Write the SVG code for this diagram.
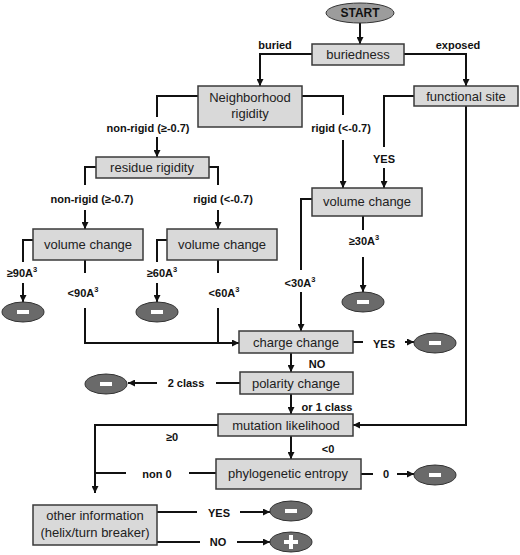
<svg xmlns="http://www.w3.org/2000/svg" width="520" height="555" viewBox="0 0 520 555">
<defs>
<marker id="ah" viewBox="0 0 10 10" refX="10" refY="5" markerWidth="9" markerHeight="7" markerUnits="userSpaceOnUse" orient="auto">
<path d="M0,0 L10,5 L0,10 z" fill="#111"/>
</marker>
</defs>
<style>
.box{fill:#d9d9d9;stroke:#3a3a3a;stroke-width:1.5}
.nt{font-family:"Liberation Sans",Arial,sans-serif;font-size:13px;fill:#222;text-anchor:middle}
.lb{font-family:"Liberation Sans",Arial,sans-serif;font-size:11px;font-weight:bold;fill:#111;text-anchor:middle}
.sup{font-size:7.5px}
.ln{fill:none;stroke:#111;stroke-width:2}
.ar{fill:none;stroke:#111;stroke-width:2;marker-end:url(#ah)}
.term{fill:#6a6a6a;stroke:#333;stroke-width:1}
.sym{fill:#fff}
</style>
<rect width="520" height="555" fill="#fff"/>

<g id="connectors">
<line class="ar" x1="360" y1="23" x2="360" y2="44"/>
<path class="ar" d="M312,54 H260 V86"/>
<path class="ar" d="M404,54 H466 V86"/>
<path class="ln" d="M198,96 H157 V117"/>
<path class="ar" d="M157,137 V157"/>
<path class="ln" d="M302,96 H343 V115"/>
<path class="ar" d="M343,140 V188"/>
<path class="ln" d="M414,96 H384 V147"/>
<path class="ar" d="M384,168 V188"/>
<path class="ar" d="M466,106 V425 H353"/>
<path class="ln" d="M96,167 H85 V185"/>
<path class="ar" d="M85,210 V229"/>
<path class="ln" d="M209,167 H218 V185"/>
<path class="ar" d="M218,210 V229"/>
<path class="ln" d="M33,240 H23 V262"/>
<path class="ar" d="M23,283 V302"/>
<path class="ln" d="M85,260 V273"/>
<path class="ar" d="M85,308 V343 H239"/>
<path class="ln" d="M167,240 H157 V262"/>
<path class="ar" d="M157,283 V302"/>
<path class="ln" d="M218,260 V273"/>
<path class="ln" d="M218,308 V343"/>
<path class="ln" d="M363,216 V230"/>
<path class="ar" d="M363,257 V292"/>
<path class="ln" d="M312,199 H301 V270"/>
<path class="ar" d="M301,292 V331"/>
<path class="ln" d="M353,342 H363"/>
<path class="ar" d="M405,342 H414"/>
<path class="ar" d="M291,353 V372"/>
<path class="ln" d="M240,383 H216"/>
<path class="ar" d="M157,383 H128"/>
<path class="ar" d="M291,394 V414"/>
<path class="ar" d="M218,425 H95 V493"/>
<path class="ar" d="M291,436 V459"/>
<path class="ln" d="M216,473 H189"/>
<path class="ln" d="M126,473 H95"/>
<path class="ln" d="M361,474 H373"/>
<path class="ar" d="M397,474 H414"/>
<path class="ln" d="M157,512 H197"/>
<path class="ar" d="M240,512 H270"/>
<path class="ln" d="M157,542 H200"/>
<path class="ar" d="M237,542 H270"/>

<text class="lb" x="275" y="49">buried</text>
<text class="lb" x="458" y="49">exposed</text>
<text class="lb" x="148" y="132">non-rigid (≥-0.7)</text>
<text class="lb" x="341" y="132">rigid (&lt;-0.7)</text>
<text class="lb" x="384" y="163">YES</text>
<text class="lb" x="92" y="203">non-rigid (≥-0.7)</text>
<text class="lb" x="223" y="203">rigid (&lt;-0.7)</text>
<text class="lb" x="22" y="277">≥90A<tspan class="sup" dy="-5">3</tspan></text>
<text class="lb" x="83" y="297">&lt;90A<tspan class="sup" dy="-5">3</tspan></text>
<text class="lb" x="162" y="277">≥60A<tspan class="sup" dy="-5">3</tspan></text>
<text class="lb" x="224" y="297">&lt;60A<tspan class="sup" dy="-5">3</tspan></text>
<text class="lb" x="364" y="245">≥30A<tspan class="sup" dy="-5">3</tspan></text>
<text class="lb" x="300" y="287">&lt;30A<tspan class="sup" dy="-5">3</tspan></text>
<text class="lb" x="384" y="348">YES</text>
<text class="lb" x="317" y="368">NO</text>
<text class="lb" x="186" y="387">2 class</text>
<text class="lb" x="327" y="411">or 1 class</text>
<text class="lb" x="172" y="441">≥0</text>
<text class="lb" x="328" y="453">&lt;0</text>
<text class="lb" x="157" y="478">non 0</text>
<text class="lb" x="386" y="478">0</text>
<text class="lb" x="219" y="517">YES</text>
<text class="lb" x="218" y="546">NO</text>
</g>

<g id="start">
<ellipse cx="360" cy="13" rx="34" ry="10" fill="#9c9c9c" stroke="#333" stroke-width="1"/>
<text class="lb" x="360" y="17" style="font-size:12px">START</text>
</g>
<g id="buriedness">
<rect class="box" x="312" y="44" width="92" height="21"/>
<text class="nt" x="358" y="59">buriedness</text>
</g>
<g id="neighborhood">
<rect class="box" x="198" y="86" width="104" height="41"/>
<text class="nt" x="250" y="102">Neighborhood</text>
<text class="nt" x="250" y="118">rigidity</text>
</g>
<g id="functional">
<rect class="box" x="414" y="86" width="104" height="20"/>
<text class="nt" x="466" y="101">functional site</text>
</g>
<g id="residue">
<rect class="box" x="96" y="157" width="113" height="21"/>
<text class="nt" x="152" y="172">residue rigidity</text>
</g>
<g id="vol1">
<rect class="box" x="33" y="229" width="110" height="31"/>
<text class="nt" x="88" y="249">volume change</text>
</g>
<g id="vol2">
<rect class="box" x="167" y="229" width="110" height="31"/>
<text class="nt" x="222" y="249">volume change</text>
</g>
<g id="vol3">
<rect class="box" x="312" y="188" width="110" height="28"/>
<text class="nt" x="367" y="206">volume change</text>
</g>
<g id="charge">
<rect class="box" x="239" y="331" width="114" height="22"/>
<text class="nt" x="296" y="347">charge change</text>
</g>
<g id="polarity">
<rect class="box" x="240" y="372" width="113" height="22"/>
<text class="nt" x="296" y="388">polarity change</text>
</g>
<g id="mutation">
<rect class="box" x="218" y="414" width="135" height="22"/>
<text class="nt" x="286" y="430">mutation likelihood</text>
</g>
<g id="phylo">
<rect class="box" x="216" y="459" width="145" height="30"/>
<text class="nt" x="288" y="478">phylogenetic entropy</text>
</g>
<g id="other">
<rect class="box" x="33" y="505" width="124" height="40"/>
<text class="nt" x="95" y="520">other information</text>
<text class="nt" x="95" y="537">(helix/turn breaker)</text>
</g>

<g id="neg1"><ellipse class="term" cx="23" cy="312" rx="21" ry="10"/><rect class="sym" x="17" y="310" width="12" height="4"/></g>
<g id="neg2"><ellipse class="term" cx="157" cy="312" rx="21" ry="10"/><rect class="sym" x="151" y="310" width="12" height="4"/></g>
<g id="neg3"><ellipse class="term" cx="363" cy="302" rx="21" ry="10"/><rect class="sym" x="357" y="300" width="12" height="4"/></g>
<g id="neg4"><ellipse class="term" cx="435" cy="343" rx="21" ry="10"/><rect class="sym" x="429" y="341" width="12" height="4"/></g>
<g id="neg5"><ellipse class="term" cx="106" cy="384" rx="21" ry="10"/><rect class="sym" x="100" y="382" width="12" height="4"/></g>
<g id="neg6"><ellipse class="term" cx="435" cy="475" rx="21" ry="10"/><rect class="sym" x="429" y="473" width="12" height="4"/></g>
<g id="neg7"><ellipse class="term" cx="291" cy="511" rx="21" ry="10"/><rect class="sym" x="285" y="509" width="12" height="4"/></g>
<g id="pos1"><ellipse class="term" cx="291" cy="542" rx="21" ry="10"/><rect class="sym" x="284" y="540" width="14" height="4"/><rect class="sym" x="289" y="535" width="4" height="14"/></g>
</svg>
